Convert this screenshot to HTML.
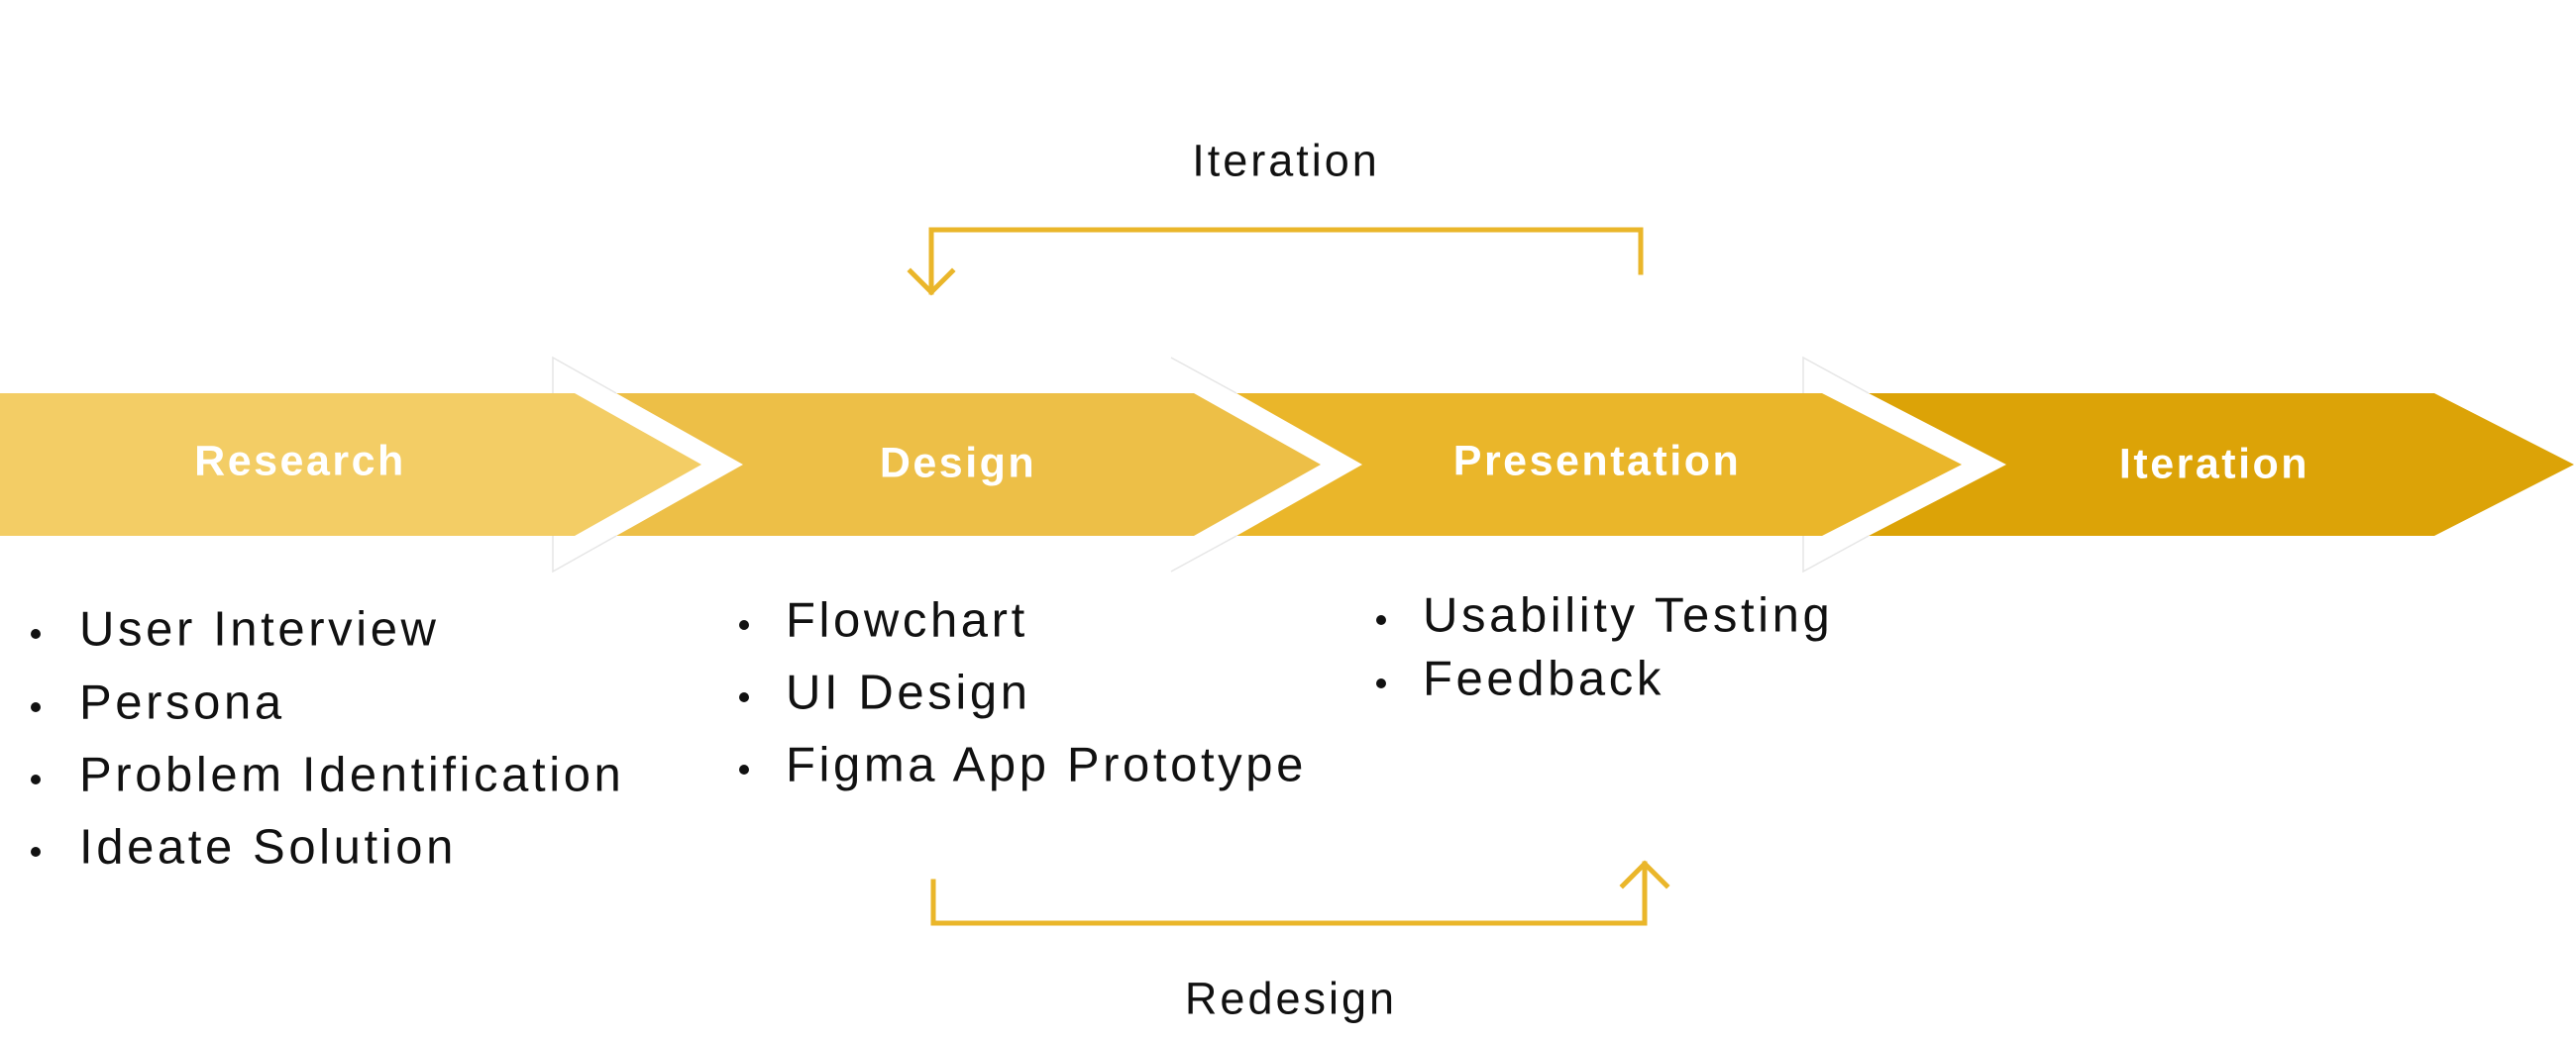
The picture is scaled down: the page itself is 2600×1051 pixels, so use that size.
<!DOCTYPE html>
<html><head><style>
html,body{margin:0;padding:0;background:#fff;}
body{width:2600px;height:1051px;position:relative;overflow:hidden;font-family:"Liberation Sans",sans-serif;}
.t{position:absolute;white-space:nowrap;color:#111;font-size:49px;letter-spacing:3.6px;line-height:1;transform:translateY(-50%);}
.h{position:absolute;white-space:nowrap;color:#fff;font-weight:bold;font-size:43px;letter-spacing:2.5px;transform:translate(-50%,-50%);line-height:1;}
.c{position:absolute;white-space:nowrap;color:#111;font-size:45px;letter-spacing:3px;transform:translate(-50%,-50%);line-height:1;}
.b{position:absolute;width:10px;height:10px;border-radius:50%;background:#111;transform:translate(-50%,-50%);}
</style></head><body>
<svg width="2600" height="1051" style="position:absolute;left:0;top:0">
<polygon points="0,397 580,397 708,469 580,541 0,541" fill="#F3CD65"/>
<polygon points="622,397 1205,397 1333,469 1205,541 622,541 750,469" fill="#EDBF47"/>
<polygon points="1248,397 1839,397 1980,469 1839,541 1248,541 1375,469" fill="#EAB62A"/>
<polygon points="1886,397 2457,397 2598,469 2457,541 1886,541 2025,469" fill="#DCA307"/>
<g stroke="#e6e6e6" stroke-width="1.5" fill="none">
<polyline points="558,397 558,361 622,397"/><polyline points="558,541 558,577 622,541"/>
<polyline points="1182,361 1248,397"/><polyline points="1182,577 1248,541"/>
<polyline points="1820,397 1820,361 1886,397"/><polyline points="1820,541 1820,577 1886,541"/>
</g>
<g stroke="#EAB62A" stroke-width="5" fill="none" stroke-linecap="square">
<polyline points="1656,275 1656,232 940,232 940,295"/>
<polyline points="919,274 940,295 961,274"/>
<polyline points="942,890 942,932 1660,932 1660,872"/>
<polyline points="1638,894 1660,872 1682,894"/>
</g>
</svg>
<div class="h" style="left:303px;top:466px">Research</div>
<div class="h" style="left:967px;top:468px">Design</div>
<div class="h" style="left:1612px;top:466px">Presentation</div>
<div class="h" style="left:2235px;top:469px">Iteration</div>

<div class="b" style="left:36px;top:640px"></div><div class="t" style="left:80px;top:636px">User Interview</div>
<div class="b" style="left:36px;top:714px"></div><div class="t" style="left:80px;top:710px">Persona</div>
<div class="b" style="left:36px;top:787px"></div><div class="t" style="left:80px;top:783px">Problem Identification</div>
<div class="b" style="left:36px;top:860px"></div><div class="t" style="left:80px;top:856px">Ideate Solution</div>

<div class="b" style="left:751px;top:631px"></div><div class="t" style="left:793px;top:627px">Flowchart</div>
<div class="b" style="left:751px;top:704px"></div><div class="t" style="left:793px;top:700px">UI Design</div>
<div class="b" style="left:751px;top:777px"></div><div class="t" style="left:793px;top:773px">Figma App Prototype</div>

<div class="b" style="left:1394px;top:626px"></div><div class="t" style="left:1436px;top:622px">Usability Testing</div>
<div class="b" style="left:1394px;top:690px"></div><div class="t" style="left:1436px;top:686px">Feedback</div>

<div class="c" style="left:1298px;top:162px">Iteration</div>
<div class="c" style="left:1303px;top:1008px">Redesign</div>
</body></html>
